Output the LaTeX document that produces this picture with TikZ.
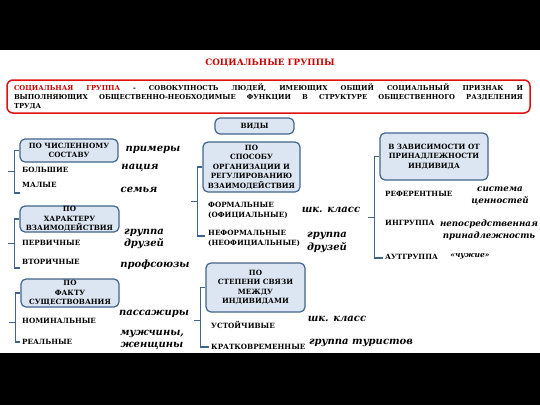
\documentclass[tikz,border=0pt]{standalone}
\usepackage{fontspec}
\setmainfont{DejaVu Serif}
\usetikzlibrary{calc}
\definecolor{boxfill}{HTML}{DCE6F2}
\definecolor{boxline}{HTML}{41648C}
\definecolor{titlered}{HTML}{CC0000}
\definecolor{defred}{HTML}{E01010}

\tikzset{
 hdr/.style={draw=boxline, fill=boxfill, line width=1.2pt, rounded corners=5pt, inner sep=0pt, align=center, font=\bfseries\fontsize{7.2}{9.5}\selectfont},
 item/.style={anchor=west, inner sep=0pt, align=left, font=\bfseries\fontsize{7.2}{10}\selectfont},
 ex/.style={inner sep=0pt, align=center, font=\bfseries\itshape\fontsize{10}{12.5}\selectfont},
 exsmall/.style={ex, font=\bfseries\itshape\fontsize{8.7}{11.5}\selectfont},
 brk/.style={draw=boxline, line width=1.3pt},
 defbox/.style={draw=defred, line width=1.5pt, rounded corners=6pt, inner xsep=7pt, inner ysep=0pt, minimum height=33, text width=509, align=justify, font=\bfseries\fontsize{6.8}{9}\selectfont}
}

\begin{document}
\begin{tikzpicture}[x=1pt, y=-1pt]
\fill[white] (0,0) rectangle (540,405);
\useasboundingbox (0,0) rectangle (540,405);
\fill[black] (0,0) rectangle (540,50);
\fill[black] (0,353) rectangle (540,405);

\node[font=\bfseries\fontsize{8.8}{11}\selectfont, text=titlered] (title) at (270,63) {СОЦИАЛЬНЫЕ ГРУППЫ};
\node[defbox] (def) at (268.5,96.5) {\tolerance=10000\relax\hbadness=10000\relax{\color{titlered}СОЦИАЛЬНАЯ ГРУППА} - СОВОКУПНОСТЬ ЛЮДЕЙ, ИМЕЮЩИХ ОБЩИЙ СОЦИАЛЬНЫЙ ПРИЗНАК И\linebreak ВЫПОЛНЯЮЩИХ ОБЩЕСТВЕННО-НЕОБХОДИМЫЕ ФУНКЦИИ В СТРУКТУРЕ ОБЩЕСТВЕННОГО РАЗДЕЛЕНИЯ\linebreak ТРУДА};

\node[hdr, minimum width=79, minimum height=16] (vidy) at (254.5,126) {ВИДЫ};
\node[hdr, minimum width=98, minimum height=23] (h1) at (69,150.5) {ПО ЧИСЛЕННОМУ\\СОСТАВУ};
\node[hdr, minimum width=99, minimum height=26] (h2) at (69.5,219) {ПО\\ХАРАКТЕРУ\\ВЗАИМОДЕЙСТВИЯ};
\node[hdr, minimum width=98, minimum height=28] (h3) at (70,293) {ПО\\ФАКТУ\\СУЩЕСТВОВАНИЯ};
\node[hdr, minimum width=97, minimum height=50] (m1) at (251.5,167) {ПО\\СПОСОБУ\\ОРГАНИЗАЦИИ И\\РЕГУЛИРОВАНИЮ\\ВЗАИМОДЕЙСТВИЯ};
\node[hdr, minimum width=99, minimum height=49] (m2) at (255.5,287.5) {ПО\\СТЕПЕНИ СВЯЗИ\\МЕЖДУ\\ИНДИВИДАМИ};
\node[hdr, minimum width=108, minimum height=47] (r1) at (434,156.5) {В ЗАВИСИМОСТИ ОТ\\ПРИНАДЛЕЖНОСТИ\\ИНДИВИДА};

\foreach \n/\x/\y/\t in {a1/22/170/БОЛЬШИЕ, a2/22/185/МАЛЫЕ, a3/22/243/ПЕРВИЧНЫЕ, a4/22/262/ВТОРИЧНЫЕ, a5/22/321/НОМИНАЛЬНЫЕ, a6/22/342/РЕАЛЬНЫЕ,
  b1/208/210/{ФОРМАЛЬНЫЕ\\(ОФИЦИАЛЬНЫЕ)}, b2/208/238/{НЕФОРМАЛЬНЫЕ\\(НЕОФИЦИАЛЬНЫЕ)}, b3/211/325/УСТОЙЧИВЫЕ, b4/211/347/КРАТКОВРЕМЕННЫЕ,
  c1/385/194/РЕФЕРЕНТНЫЕ, c2/385/223/ИНГРУППА, c3/385/257/АУТГРУППА}
 \node[item] (\n) at (\x,\y) {\t};

\foreach \n/\x/\y/\t in {p1/153/150/примеры, p2/140/168/нация, p3/139/190/семья, p4/144/239/{группа\\друзей}, p5/155/265/профсоюзы,
  p6/154/314/пассажиры, p7/152/340/{мужчины,\\женщины}, q1/331/210/шк. класс, q2/327/242.5/{группа\\друзей}, q3/337/319/шк. класс,
  q4/361/343/группа туристов}
 \node[ex] (\n) at (\x,\y) {\t};
\node[exsmall] (s1) at (500,196) {система\\ценностей};
\node[exsmall] (s2) at (489,230) {непосредственная\\принадлежность};
\node[exsmall, font=\bfseries\itshape\fontsize{7.5}{9}\selectfont] (s3) at (470,256) {«чужие»};

\coordinate (e1) at (20,193);
\coordinate (e2) at (20,268);
\coordinate (e3) at (20,342);
\coordinate (f1) at (205,236);
\coordinate (f2) at (209,347);
\coordinate (g1) at (383,258);
\foreach \h/\e/\p in {h1/e1/.25, h2/e2/.25, h3/e3/.3, m1/f1/.25, m2/f2/.28, r1/g1/.3} {
 \draw[brk] (\h.west) -- ++(-5,0) |- (\e) coordinate[pos=\p] (k);
 \draw[brk] (k) -- ++(-6,0);
}
\end{tikzpicture}
\end{document}
